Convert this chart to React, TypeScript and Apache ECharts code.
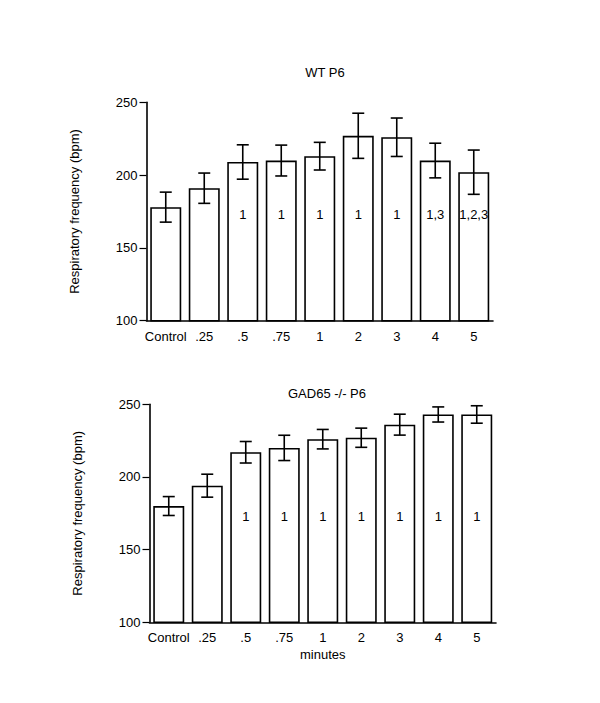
import React, { useEffect, useRef } from "react";
import * as echarts from "echarts";

const categories = ["Control", ".25", ".5", ".75", "1", "2", "3", "4", "5"];
const wtMeans = [178, 191, 209, 210, 213, 227, 226, 210, 202];
const wtErr = [10.3, 10.4, 11.8, 10.6, 9.5, 15.5, 13.2, 11.9, 15.2];
const wtSig = ["", "", "1", "1", "1", "1", "1", "1,3", "1,2,3"];
const gadMeans = [180, 194, 217, 220, 226, 227, 236, 243, 243];
const gadErr = [6.5, 7.9, 7.4, 8.7, 6.7, 6.6, 7.2, 5.2, 6];
const gadSig = ["", "", "1", "1", "1", "1", "1", "1", "1"];
const sigLevel = 173;
const yTicks = { min: 100, max: 250, interval: 50 };

const FONT = "Liberation Sans, Arial, Helvetica, sans-serif";
const FS = 13;

export default function App() {
  const ref = useRef<HTMLDivElement>(null);
  useEffect(() => {
    if (!ref.current) return;
    const chart = echarts.init(ref.current, undefined, { renderer: "svg" });

    const errRender = (params: any, api: any) => {
      const x = api.value(0);
      const lo = api.coord([x, api.value(1)]);
      const hi = api.coord([x, api.value(2)]);
      const half = 6;
      const st = { stroke: "#000", lineWidth: 1.6 };
      return {
        type: "group",
        children: [
          { type: "line", shape: { x1: hi[0], y1: hi[1], x2: lo[0], y2: lo[1] }, style: st },
          { type: "line", shape: { x1: hi[0] - half, y1: hi[1], x2: hi[0] + half, y2: hi[1] }, style: st },
          { type: "line", shape: { x1: lo[0] - half, y1: lo[1], x2: lo[0] + half, y2: lo[1] }, style: st },
        ],
      };
    };
    const sigRender = (labels: string[]) => (params: any, api: any) => {
      const p = api.coord([api.value(0), api.value(1)]);
      return {
        type: "text",
        x: p[0],
        y: p[1],
        style: {
          text: labels[params.dataIndex],
          align: "center",
          verticalAlign: "middle",
          fontSize: FS,
          fontFamily: FONT,
          fill: "#000",
        },
      };
    };

    const xAxisBase = (gi: number, name?: string) => ({
      type: "category",
      gridIndex: gi,
      data: categories,
      axisTick: { show: false },
      axisLine: { lineStyle: { color: "#000", width: 1.6 } },
      axisLabel: { color: "#000", fontSize: FS, fontFamily: FONT, margin: 9, interval: 0 },
      name,
      nameLocation: "middle",
      nameGap: 26,
      nameTextStyle: { color: "#000", fontSize: FS, fontFamily: FONT },
    });
    const yAxisBase = (gi: number) => ({
      type: "value",
      gridIndex: gi,
      ...yTicks,
      splitLine: { show: false },
      axisLine: { show: true, lineStyle: { color: "#000", width: 1.6 } },
      axisTick: { show: true, length: 7, lineStyle: { color: "#000", width: 1.2 } },
      axisLabel: { color: "#000", fontSize: FS, fontFamily: FONT, margin: 9 },
      name: "Respiratory frequency (bpm)",
      nameLocation: "middle",
      nameGap: 66,
      nameTextStyle: { color: "#000", fontSize: FS, fontFamily: FONT },
    });

    const barSeries = (gi: number, vals: number[]) => ({
      type: "bar",
      xAxisIndex: gi,
      yAxisIndex: gi,
      data: vals,
      barWidth: 31,
      itemStyle: { color: "#fff", borderColor: "#000", borderWidth: 1.6 },
      z: 2,
    });
    const errSeries = (gi: number, vals: number[], errs: number[]) => ({
      type: "custom",
      xAxisIndex: gi,
      yAxisIndex: gi,
      renderItem: errRender,
      data: vals.map((v, i) => [i, v - errs[i], v + errs[i]]),
      z: 3,
    });
    const sigSeries = (gi: number, labels: string[]) => ({
      type: "custom",
      xAxisIndex: gi,
      yAxisIndex: gi,
      renderItem: sigRender(labels),
      data: labels.map((_, i) => [i, sigLevel]),
      z: 4,
    });

    chart.setOption({
      animation: false,
      backgroundColor: "#fff",
      title: [
        {
          text: "WT P6",
          left: 320,
          textAlign: "center",
          top: 61,
          textStyle: { fontSize: FS, fontWeight: "normal", color: "#000", fontFamily: FONT },
        },
        {
          text: "GAD65 -/- P6",
          left: 322,
          textAlign: "center",
          top: 382,
          textStyle: { fontSize: FS, fontWeight: "normal", color: "#000", fontFamily: FONT },
        },
      ],
      grid: [
        { left: 146.5, width: 346.5, top: 102.3, height: 218.4 },
        { left: 149.5, width: 346.5, top: 404.3, height: 218 },
      ],
      xAxis: [xAxisBase(0), xAxisBase(1, "minutes")],
      yAxis: [yAxisBase(0), yAxisBase(1)],
      series: [
        barSeries(0, wtMeans),
        errSeries(0, wtMeans, wtErr),
        sigSeries(0, wtSig),
        barSeries(1, gadMeans),
        errSeries(1, gadMeans, gadErr),
        sigSeries(1, gadSig),
      ],
    });
    return () => chart.dispose();
  }, []);
  return (
    <div
      ref={ref}
      style={{ position: "fixed", left: 0, top: 0, width: 600, height: 703, background: "#fff" }}
    />
  );
}
